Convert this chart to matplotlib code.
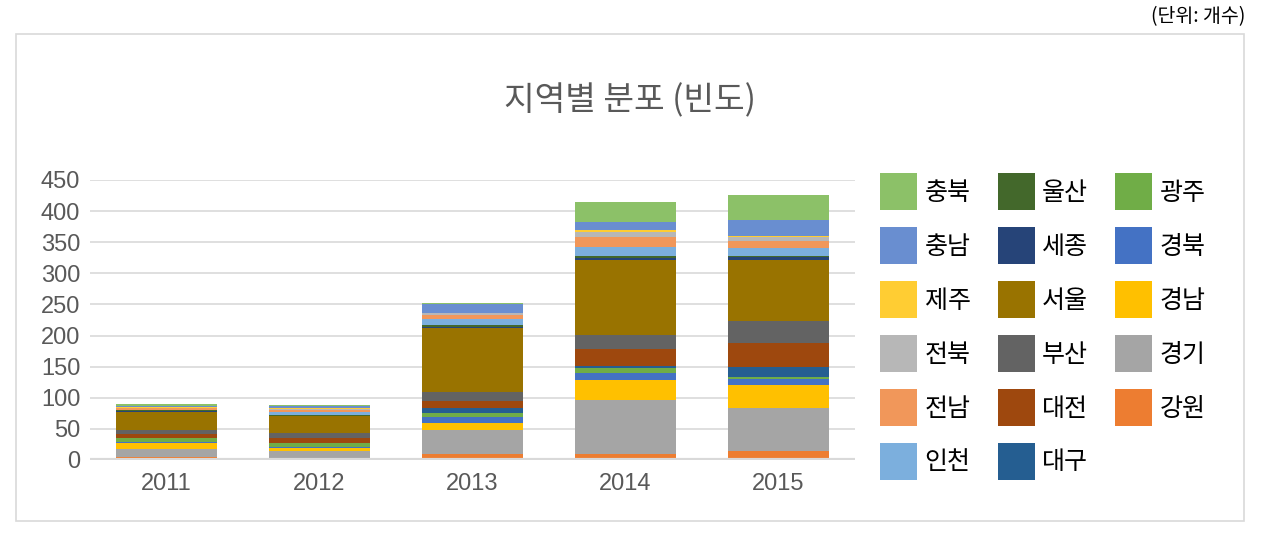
import matplotlib.pyplot as plt
from matplotlib.patches import Rectangle, Patch
import numpy as np

plt.rcParams['font.family'] = ['Noto Sans CJK KR', 'DejaVu Sans']

# Data: years and counts per region (bottom to top stacking order)
years = ['2011', '2012', '2013', '2014', '2015']
regions = ['강원', '경기', '경남', '경북', '광주', '대구', '대전', '부산', '서울',
           '세종', '울산', '인천', '전남', '전북', '제주', '충남', '충북']
강원 = [5, 0, 10, 10, 14]
경기 = [12, 14, 38, 87, 69]
경남 = [10, 6, 11, 32, 37]
경북 = [2, 1, 10, 11, 10]
광주 = [6, 6, 6, 8, 3]
대구 = [1, 1, 9, 3, 16]
대전 = [5, 8, 11, 28, 39]
부산 = [7, 8, 14, 22, 35]
서울 = [29, 26, 103, 121, 99]
세종 = [2, 1, 2, 3, 4]
울산 = [1, 1, 3, 3, 2]
인천 = [1, 5, 9, 15, 12]
전남 = [2, 3, 7, 16, 12]
전북 = [1, 2, 3, 8, 6]
제주 = [0.5, 1, 1, 3, 2]
충남 = [3, 3, 13, 13, 26]
충북 = [3, 2, 3, 31, 40]
values = [강원, 경기, 경남, 경북, 광주, 대구, 대전, 부산, 서울,
          세종, 울산, 인천, 전남, 전북, 제주, 충남, 충북]
colors = ['#ED7D31', '#A5A5A5', '#FFC000', '#4472C4', '#70AD47', '#255E91',
          '#9E480E', '#636363', '#997300', '#264478', '#43682B', '#7CAFDD',
          '#F1975A', '#B7B7B7', '#FFCD33', '#698ED0', '#8CC168']

W, H = 1266, 535
fig = plt.figure(figsize=(W / 100, H / 100), dpi=100)

# chart border box
fig.patches.append(Rectangle((16 / W, 1 - 521 / H), (1244 - 16) / W, (521 - 34) / H,
                             transform=fig.transFigure, fill=False,
                             edgecolor='#D9D9D9', linewidth=1.2))

ax = fig.add_axes([90 / W, 1 - 460 / H, (855 - 90) / W, (460 - 180) / H])
x = np.arange(len(years))
bottom = np.zeros(len(years))
for name, vals, c in zip(regions, values, colors):
    ax.bar(x, vals, bottom=bottom, width=0.655, color=c, label=name, zorder=3)
    bottom += np.array(vals)

ax.set_xlim(-0.5, 4.5)
ax.set_ylim(0, 450)
ax.set_yticks(range(0, 451, 50))
ax.set_xticks(x)
ax.set_xticklabels(years)
for s in ax.spines.values():
    s.set_visible(False)
ax.grid(axis='y', color='#D9D9D9', linewidth=1.2, zorder=0)
ax.axhline(0, color='#D9D9D9', linewidth=3, zorder=4)
ax.tick_params(axis='both', length=0, labelsize=17, labelcolor='#595959')
ax.tick_params(axis='y', pad=7)
ax.tick_params(axis='x', pad=9)
for lab in ax.get_xticklabels() + ax.get_yticklabels():
    lab.set_family(['Liberation Sans', 'DejaVu Sans'])

# legend, column-major reversed order
order = list(range(len(regions)))[::-1]
handles = [Patch(facecolor=colors[i]) for i in order]
labels = [regions[i] for i in order]
fig.legend(handles, labels, ncol=3, loc='upper left',
           bbox_to_anchor=(880 / W, 1 - 173 / H), frameon=False,
           fontsize=18, handlelength=1.48, handleheight=1.9,
           handletextpad=0.3, labelspacing=0.68, columnspacing=1.08,
           borderpad=0, borderaxespad=0)

fig.text(630 / W, 1 - 101 / H, '지역별 분포 (빈도)', ha='center', va='center',
         fontsize=24, color='#595959')
fig.text(1245 / W, 1 - 17 / H, '(단위: 개수)', ha='right', va='center',
         fontsize=14, color='#000000')

fig.savefig('out.png', dpi=100)
